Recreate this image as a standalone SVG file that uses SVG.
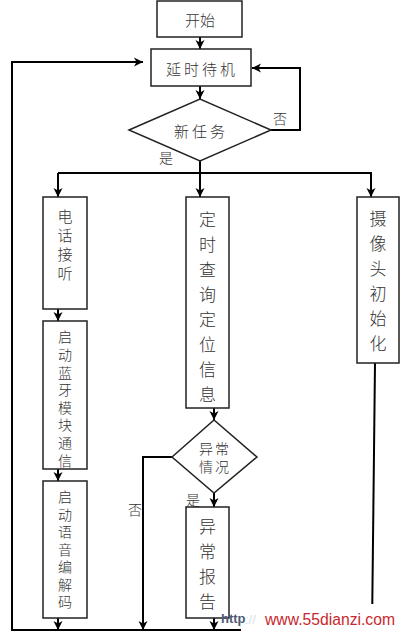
<svg xmlns="http://www.w3.org/2000/svg" width="400" height="632" viewBox="0 0 400 632">
<defs>
<marker id="ah" markerUnits="userSpaceOnUse" markerWidth="10" markerHeight="10" refX="9" refY="5" orient="auto">
<path d="M0,0.5 L9,5 L0,9.5 L2.5,5 z" fill="#000"/>
</marker>
<style>
.box{fill:#fff;stroke:#222;stroke-width:1.5}
.ln{fill:none;stroke:#000;stroke-width:2}
.t{font-family:"Noto Sans CJK SC","Noto Sans CJK JP",sans-serif;font-weight:300;fill:#333;text-anchor:middle;dominant-baseline:central}
.v{font-family:"Noto Sans CJK SC","Noto Sans CJK JP",sans-serif;font-weight:300;fill:#333;writing-mode:vertical-rl;text-anchor:start}
.s15{font-size:15px}
.s14{font-size:14px}
.s17{font-size:17px}
</style>
</defs>
<rect width="400" height="632" fill="#fff"/>

<g id="connectors">
<line class="ln" x1="200" y1="37" x2="200" y2="49" marker-end="url(#ah)"/>
<line class="ln" x1="200" y1="86" x2="200" y2="99" marker-end="url(#ah)"/>
<polyline class="ln" points="271,130 300,130 300,68 252,68" marker-end="url(#ah)"/>
<polyline class="ln" points="200,161 200,173"/>
<line class="ln" x1="58" y1="173" x2="372" y2="173"/>
<line class="ln" x1="58" y1="173" x2="58" y2="197" marker-end="url(#ah)"/>
<line class="ln" x1="200" y1="173" x2="200" y2="197" marker-end="url(#ah)"/>
<line class="ln" x1="371" y1="173" x2="371" y2="197" marker-end="url(#ah)"/>
<line class="ln" x1="58" y1="309" x2="58" y2="321" marker-end="url(#ah)"/>
<line class="ln" x1="58" y1="469" x2="58" y2="481" marker-end="url(#ah)"/>
<line class="ln" x1="58" y1="618" x2="58" y2="630" marker-end="url(#ah)"/>
<line class="ln" x1="214" y1="408" x2="214" y2="420" marker-end="url(#ah)"/>
<line class="ln" x1="214" y1="493" x2="214" y2="507" marker-end="url(#ah)"/>
<line class="ln" x1="214" y1="618" x2="214" y2="630" marker-end="url(#ah)"/>
<polyline class="ln" points="172,457 143,457 143,630" marker-end="url(#ah)"/>
<line class="ln" x1="375" y1="363" x2="372" y2="630"/>
<polyline class="ln" points="372,630 12,630 12,62 143,62" marker-end="url(#ah)"/>
</g>

<g id="start">
<rect class="box" x="157" y="1" width="85" height="36"/>
<text class="t s15" x="200" y="19">开始</text>
</g>
<g id="wait">
<rect class="box" x="151" y="49" width="100" height="37"/>
<text class="t s15" x="202" y="68" letter-spacing="3">延时待机</text>
</g>
<g id="newtask">
<polygon class="box" points="129,130 200,99 271,130 200,161"/>
<text class="t s15" x="201" y="130" letter-spacing="3">新任务</text>
</g>
<g id="lbl-no1"><text class="t s14" x="280" y="118">否</text></g>
<g id="lbl-yes1"><text class="t s14" x="166" y="157">是</text></g>

<g id="phone">
<rect class="box" x="43" y="197" width="44" height="112"/>
<text class="t s15" x="65" y="215"><tspan x="65" y="215">电</tspan><tspan x="65" y="234">话</tspan><tspan x="65" y="253">接</tspan><tspan x="65" y="272">听</tspan></text>
</g>
<g id="bluetooth">
<rect class="box" x="43" y="321" width="44" height="148"/>
<text class="v s14" x="65" y="330" letter-spacing="3.6">启动蓝牙模块通信</text>
</g>
<g id="voice">
<rect class="box" x="43" y="481" width="44" height="137"/>
<text class="v s14" x="65" y="490" letter-spacing="3.5">启动语音编解码</text>
</g>
<g id="locate">
<rect class="box" x="186" y="197" width="43" height="211"/>
<text class="t s17" x="207.5" y="218"><tspan x="207.5" y="218">定</tspan><tspan x="207.5" y="243">时</tspan><tspan x="207.5" y="268">查</tspan><tspan x="207.5" y="293">询</tspan><tspan x="207.5" y="318">定</tspan><tspan x="207.5" y="343">位</tspan><tspan x="207.5" y="368">信</tspan><tspan x="207.5" y="393">息</tspan></text>
</g>
<g id="camera">
<rect class="box" x="357" y="197" width="42" height="166"/>
<text class="t s17" x="378" y="217"><tspan x="378" y="217">摄</tspan><tspan x="378" y="242">像</tspan><tspan x="378" y="267">头</tspan><tspan x="378" y="292">初</tspan><tspan x="378" y="317">始</tspan><tspan x="378" y="342">化</tspan></text>
</g>
<g id="abnormal">
<polygon class="box" points="172,457 214,420 257,457 214,493"/>
<text class="t s14" x="215" y="447.5" letter-spacing="2"><tspan x="215" y="447.5">异常</tspan><tspan x="215" y="466">情况</tspan></text>
</g>
<g id="lbl-yes2"><text class="t s14" x="193" y="499">是</text></g>
<g id="lbl-no2"><text class="t s14" x="135" y="509">否</text></g>
<g id="report">
<rect class="box" x="186" y="507" width="43" height="111"/>
<text class="t s17" x="207.5" y="525"><tspan x="207.5" y="525">异</tspan><tspan x="207.5" y="550">常</tspan><tspan x="207.5" y="575">报</tspan><tspan x="207.5" y="600">告</tspan></text>
</g>

<g id="watermark">
<rect x="241" y="604" width="159" height="28" fill="#fff"/>
<text x="221" y="623" font-family="Liberation Sans, sans-serif" font-size="13" font-weight="bold" fill="#4d5a78">http</text>
<text x="245" y="624" font-family="Liberation Sans, sans-serif" font-size="13" fill="#d8dde6">://</text>
<text x="265" y="625" font-family="Liberation Sans, sans-serif" font-size="16" fill="#c8282d" textLength="130" lengthAdjust="spacingAndGlyphs">www.55dianzi.com</text>
</g>
</svg>
